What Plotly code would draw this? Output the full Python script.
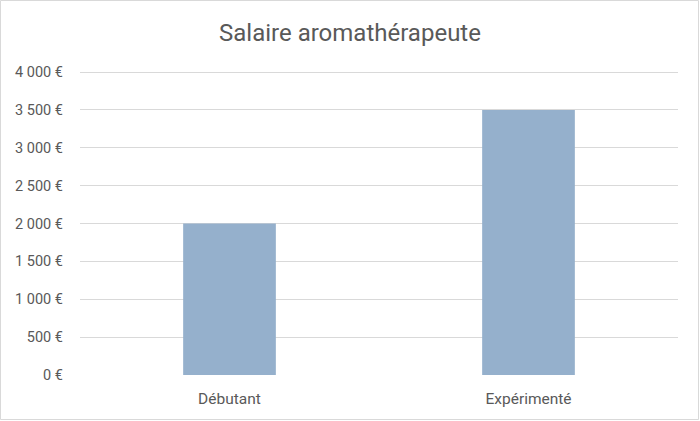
import plotly.graph_objects as go

categories = ['Débutant', 'Expérimenté']
salaires = [2000, 3500]
y_ticks = [0, 500, 1000, 1500, 2000, 2500, 3000, 3500, 4000]
y_labels = [f'{v:,}'.replace(',', ' ') + ' €' for v in y_ticks]

W, H = 700, 421
ml, mr, mt, mb = 80, 22, 70, 46
# l'axe monte un peu au-dessus de 4000 pour que la grille du haut soit visible
y_top = 4000 * (H - mt - mb) / 303

fig = go.Figure()
fig.add_trace(go.Bar(x=categories, y=salaires, marker_color='#95B0CC',
                     marker_line_width=0))

fig.update_layout(
    width=W, height=H,
    margin=dict(l=ml, r=mr, t=mt, b=mb),
    paper_bgcolor='white', plot_bgcolor='white',
    font=dict(family='Roboto', size=14.5, color='#595959'),
    title=dict(text='Salaire aromathérapeute', x=0.5, xanchor='center',
               y=1 - 33 / H, yanchor='middle',
               font=dict(family='Roboto', size=24, color='#595959')),
    bargap=0.69,
    showlegend=False,
)
fig.update_yaxes(range=[0, y_top], tickvals=y_ticks, ticktext=y_labels,
                 showgrid=True, gridcolor='#D9D9D9',
                 zeroline=False, showline=False, ticklabelstandoff=16)
fig.update_xaxes(showgrid=False, showline=False, ticklabelstandoff=12,
                 tickfont=dict(size=15.5))

# bordure du graphique
pw = W - ml - mr
ph = H - mt - mb
fig.add_shape(type='rect', xref='paper', yref='paper',
              x0=(-ml + 0.5) / pw, x1=1 + (mr - 1.5) / pw,
              y0=(-mb + 1.5) / ph, y1=1 + (mt - 0.5) / ph,
              line=dict(color='#D9D9D9', width=1), layer='below')

fig.write_html('out.html', config={'displayModeBar': False},
               post_script="document.body.style.margin='0';")
